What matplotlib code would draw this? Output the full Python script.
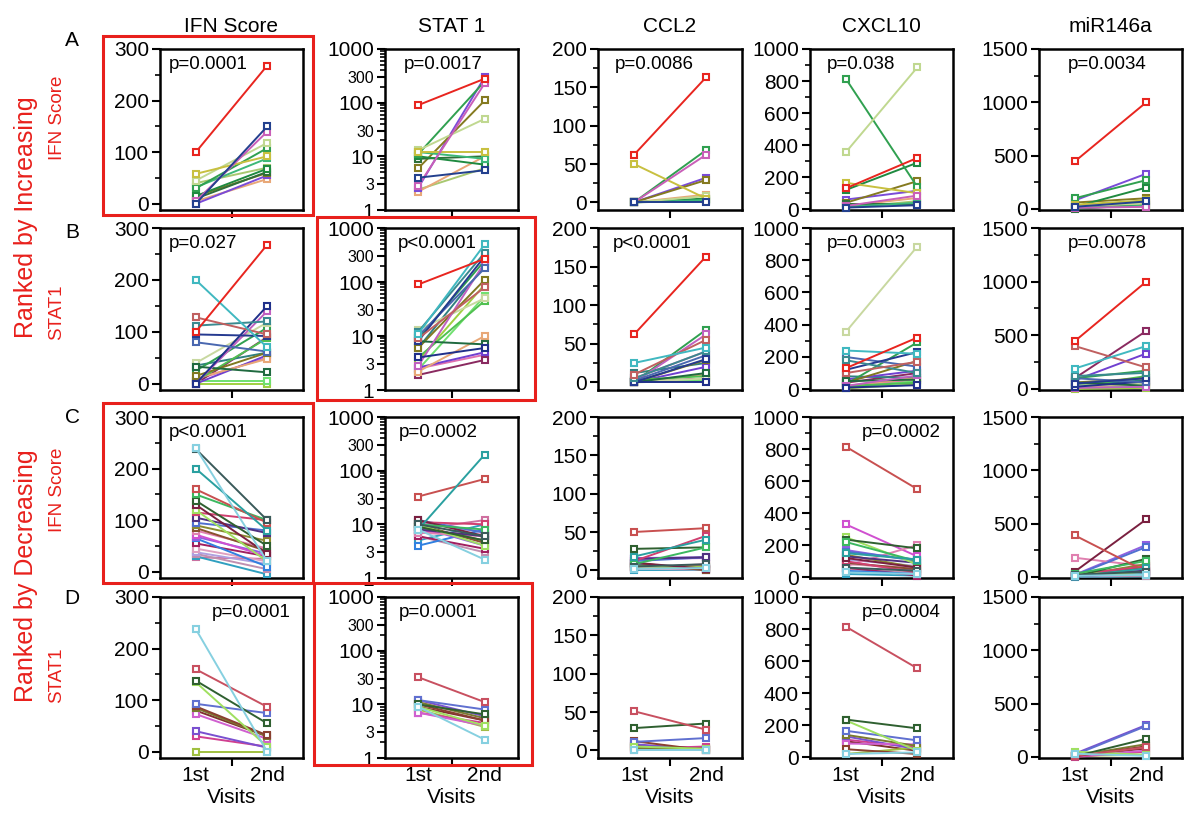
import matplotlib.pyplot as plt
from matplotlib.patches import Rectangle
from matplotlib.ticker import MultipleLocator, LogLocator, NullFormatter

plt.rcParams['font.family'] = ['Liberation Sans', 'DejaVu Sans']

columns = ["IFN Score", "STAT 1", "CCL2", "CXCL10", "miR146a"]
visits = ["1st", "2nd"]
row_letters = ["A", "B", "C", "D"]

# row A: ranked by increasing IFN score
a_ifn_1st = [100, 0, 5, 58, 45, 30, 32, 15, 10, 15, 0, 5, 40]
a_ifn_2nd = [268, 150, 140, 92, 118, 108, 88, 68, 62, 60, 55, 48, 70]
a_stat1_1st = [90, 4, 2.8, 12, 13, 11, 12, 10, 9, 6, 2.6, 2.2, 2.4]
a_stat1_2nd = [280, 5.5, 230, 12, 50, 250, 9, 7, 10, 110, 300, 10, 6]
a_ccl2_1st = [62, 0, 0, 50, 0, 0, 0, 0, 0, 0, 0, 0, 0]
a_ccl2_2nd = [163, 0, 62, 5, 8, 68, 3, 5, 2, 29, 32, 10, 4]
a_cxcl10_1st = [130, 10, 20, 165, 355, 815, 15, 120, 30, 40, 60, 20, 10]
a_cxcl10_2nd = [320, 25, 85, 100, 885, 140, 40, 290, 30, 175, 115, 70, 50]
a_mir_1st = [445, 20, 10, 40, 30, 100, 10, 20, 0, 60, 80, 5, 15]
a_mir_2nd = [1000, 70, 20, 80, 50, 270, 30, 200, 40, 100, 330, 60, 20]

# row B: ranked by increasing STAT1
b_ifn_1st = [100, 200, 128, 112, 95, 80, 0, 0, 33, 15, 40, 25, 5, 10, 0, 5, 0, 35, 0, 8]
b_ifn_2nd = [268, 70, 95, 120, 92, 62, 150, 140, 22, 60, 118, 108, 88, 48, 55, 5, 0, 60, 90, 50]
b_stat1_1st = [90, 11, 9, 12, 8, 10, 4, 2.8, 8, 6, 13, 9, 4, 2.2, 2.6, 2.4, 3.5, 6, 1.9, 2.5]
b_stat1_2nd = [270, 500, 80, 350, 300, 180, 6, 230, 7, 110, 50, 250, 45, 10, 5, 55, 90, 200, 3.6, 4.5]
b_ccl2_1st = [62, 25, 10, 5, 0, 2, 0, 0, 0, 0, 0, 0, 3, 0, 0, 2, 0, 12, 0, 5]
b_ccl2_2nd = [163, 45, 55, 40, 30, 35, 0, 62, 12, 29, 5, 68, 8, 10, 20, 3, 2, 25, 5, 40]
b_cxcl10_1st = [130, 240, 100, 180, 120, 200, 10, 20, 50, 40, 355, 30, 20, 20, 60, 10, 5, 80, 40, 15]
b_cxcl10_2nd = [320, 220, 170, 100, 230, 140, 25, 85, 60, 175, 885, 290, 40, 70, 115, 50, 30, 70, 100, 60]
b_mir_1st = [445, 190, 400, 120, 50, 100, 20, 10, 60, 60, 30, 100, 20, 5, 80, 15, 0, 40, 100, 5]
b_mir_2nd = [1000, 400, 200, 150, 100, 60, 70, 20, 30, 100, 50, 170, 120, 60, 330, 20, 10, 80, 540, 30]

# row C: ranked by decreasing IFN score
c_ifn_1st = [240, 238, 200, 160, 150, 138, 130, 120, 115, 105, 95, 90, 85, 80, 72, 68, 65, 55, 45, 38, 35, 30, 28]
c_ifn_2nd = [20, 100, 80, 95, 100, 50, 35, 20, 100, 75, 80, 60, 40, 45, 30, 35, 10, 30, 20, 15, 5, -5, 25]
c_stat1_1st = [8, 10, 8, 33, 10, 9, 12, 10, 11, 8, 12, 9, 10, 7, 8, 9, 4, 6, 7, 11, 6, 5, 8]
c_stat1_2nd = [2.2, 6, 200, 70, 8, 5, 6, 4, 10, 6, 7, 5, 4.5, 6, 5, 4, 8, 3.5, 6.5, 7, 3, 10, 12]
c_ccl2_1st = [2, 5, 18, 50, 8, 28, 10, 5, 12, 15, 12, 6, 10, 3, 15, 16, 8, 4, 2, 6, 3, 0, 5]
c_ccl2_2nd = [3, 8, 40, 55, 30, 30, 2, 4, 45, 17, 17, 5, 0, 8, 16, 17, 3, 2, 1, 4, 2, 0, 6]
c_cxcl10_1st = [30, 60, 150, 815, 220, 235, 120, 250, 100, 130, 160, 140, 90, 70, 330, 170, 40, 60, 80, 110, 50, 20, 90]
c_cxcl10_2nd = [20, 40, 110, 550, 100, 180, 60, 80, 30, 90, 110, 60, 50, 200, 130, 100, 20, 10, 60, 70, 30, 10, 40]
c_mir_1st = [10, 20, 5, 390, 30, 5, 50, 40, 20, 10, 15, 10, 5, 180, 20, 20, 10, 5, 40, 10, 5, 0, 15]
c_mir_2nd = [20, 50, 80, 50, 150, 170, 540, 20, 100, 60, 280, 120, 90, 100, 60, 300, 30, 40, 80, 20, 10, 5, 30]

# row D: ranked by decreasing STAT1
d_ifn_1st = [238, 160, 138, 135, 93, 88, 85, 73, 40, 30, 0, 80]
d_ifn_2nd = [0, 87, 55, 10, 75, 32, 30, 25, 8, 10, 0, 30]
d_stat1_1st = [9, 32, 10, 9, 12, 10, 11, 7, 12, 7, 8, 9]
d_stat1_2nd = [2.2, 11, 6.5, 4, 8, 5, 5.5, 4, 6, 4.5, 3.8, 5]
d_ccl2_1st = [0, 51, 29, 5, 11, 12, 3, 0, 8, 2, 4, 6]
d_ccl2_2nd = [0, 27, 35, 2, 16, 0, 2, 0, 1, 5, 1, 3]
d_cxcl10_1st = [20, 815, 235, 230, 165, 50, 140, 85, 130, 110, 20, 100]
d_cxcl10_2nd = [30, 555, 180, 40, 105, 20, 70, 80, 50, 60, 60, 40]
d_mir_1st = [30, 10, 5, 50, 20, 5, 10, 5, 30, 0, 10, 5]
d_mir_2nd = [10, 90, 170, 20, 290, 100, 120, 60, 300, 50, 20, 80]

p_a = ["p=0.0001", "p=0.0017", "p=0.0086", "p=0.038", "p=0.0034"]
p_b = ["p=0.027", "p<0.0001", "p<0.0001", "p=0.0003", "p=0.0078"]
p_c = ["p<0.0001", "p=0.0002", "", "p=0.0002", ""]
p_d = ["p=0.0001", "p=0.0001", "", "p=0.0004", ""]

row_a_colors = ['#e8251f', '#23408e', '#c95fb8', '#c8c040', '#c0d890', '#30a050', '#3cb878',
                '#1f8a40', '#2f6f3a', '#857a20', '#7a4bd8', '#e8a878', '#a8c870']
row_b_colors = ['#e8251f', '#40b8c0', '#c06060', '#3a8a90', '#253a90', '#4a68b0', '#20308a',
                '#c060c0', '#206a40', '#807820', '#c8d8a0', '#30a050', '#50c050', '#e8a878',
                '#7040d0', '#70e070', '#a0d040', '#308080', '#8a2a60', '#e070b0']
row_c_colors = ['#86d0e0', '#3a5a5a', '#2aa0a0', '#c85050', '#3cb860', '#2f6030', '#7a2040',
                '#a0e060', '#d04070', '#503080', '#5070d0', '#8a8a30', '#8a5030', '#e080b0',
                '#d050d0', '#9060e0', '#3080e0', '#a02060', '#e0a0c0', '#b0a0e0', '#c090b0',
                '#30a0c0', '#d070a0']
row_d_colors = ['#86d0e0', '#c85060', '#2f6030', '#a0e060', '#6070d0', '#8a4030', '#7a7a30',
                '#d060d0', '#7a50d0', '#d04090', '#a0c040', '#803030']

rows = [
    [(a_ifn_1st, a_ifn_2nd), (a_stat1_1st, a_stat1_2nd), (a_ccl2_1st, a_ccl2_2nd),
     (a_cxcl10_1st, a_cxcl10_2nd), (a_mir_1st, a_mir_2nd)],
    [(b_ifn_1st, b_ifn_2nd), (b_stat1_1st, b_stat1_2nd), (b_ccl2_1st, b_ccl2_2nd),
     (b_cxcl10_1st, b_cxcl10_2nd), (b_mir_1st, b_mir_2nd)],
    [(c_ifn_1st, c_ifn_2nd), (c_stat1_1st, c_stat1_2nd), (c_ccl2_1st, c_ccl2_2nd),
     (c_cxcl10_1st, c_cxcl10_2nd), (c_mir_1st, c_mir_2nd)],
    [(d_ifn_1st, d_ifn_2nd), (d_stat1_1st, d_stat1_2nd), (d_ccl2_1st, d_ccl2_2nd),
     (d_cxcl10_1st, d_cxcl10_2nd), (d_mir_1st, d_mir_2nd)],
]
row_colors = [row_a_colors, row_b_colors, row_c_colors, row_d_colors]
row_p = [p_a, p_b, p_c, p_d]
p_xpos = [[0.34, 0.44, 0.39, 0.36, 0.48],
          [0.30, 0.39, 0.38, 0.39, 0.48],
          [0.34, 0.40, 0.5, 0.64, 0.5],
          [0.64, 0.40, 0.5, 0.64, 0.5]]

# y axis setup per column: (ylim, major step, minor step)
yconf = [((-12, 300), 100, 50), None, ((-10, 200), 50, 25), ((-5, 1000), 200, 100), ((-10, 1500), 500, 250)]

W, H = 1200, 819
col_px = [(160, 303), (385, 518), (598, 742), (810, 953), (1039, 1182)]
row_px = [(49, 210), (228, 390), (417, 578), (597, 758)]

fig = plt.figure(figsize=(12, 8.19), dpi=100)
red = '#e8201c'

for r in range(4):
    for c in range(5):
        x0, x1 = col_px[c]
        y0, y1 = row_px[r]
        ax = fig.add_axes([x0 / W, 1 - y1 / H, (x1 - x0) / W, (y1 - y0) / H])
        v1, v2 = rows[r][c]
        cols = row_colors[r]
        n = len(v1)
        for i in range(n - 1, -1, -1):
            ax.plot([1, 2], [v1[i], v2[i]], color=cols[i], lw=1.4, marker='s', ms=5,
                    mfc='white', mec=cols[i], mew=1.5, zorder=3 + (n - i) * 0.01, clip_on=False)
        ax.set_xlim(0.5, 2.5)
        ax.set_xticks([1.5])
        ax.set_xticklabels([])
        if r == 3:
            ax.set_xticks([1, 2], minor=True)
            ax.set_xticklabels(visits, minor=True, fontsize=15)
            ax.tick_params(axis='x', which='minor', length=0, pad=6)
            ax.set_xlabel("Visits", fontsize=15, labelpad=2)
        ax.tick_params(axis='x', which='major', length=6, width=1.5, direction='out')
        if c == 1:
            ax.set_yscale('log')
            ax.set_ylim(1, 1000)
            ax.set_yticks([1, 3, 10, 30, 100, 300, 1000])
            ax.set_yticklabels(["1", "3", "10", "30", "100", "300", "1000"])
            for lab, v in zip(ax.get_yticklabels(), [1, 3, 10, 30, 100, 300, 1000]):
                lab.set_fontsize(15 if v in (1, 10, 100, 1000) else 11.5)
            ax.yaxis.set_minor_locator(LogLocator(base=10, subs=range(2, 10), numticks=20))
            ax.yaxis.set_minor_formatter(NullFormatter())
        else:
            ylim, major, minor = yconf[c]
            ax.set_ylim(*ylim)
            ax.yaxis.set_major_locator(MultipleLocator(major))
            ax.yaxis.set_minor_locator(MultipleLocator(minor))
            ax.tick_params(axis='y', which='major', labelsize=15)
        ax.tick_params(axis='y', which='major', length=6, width=1.5, direction='out', pad=2)
        ax.tick_params(axis='y', which='minor', length=3.5, width=1.2, direction='out')
        ax.tick_params(axis='x', which='minor', bottom=(r == 3))
        for s in ax.spines.values():
            s.set_linewidth(1.8)
        if r == 0:
            ax.set_title(columns[c], fontsize=15, pad=12)
        if row_p[r][c]:
            ax.text(p_xpos[r][c], 0.905, row_p[r][c], transform=ax.transAxes,
                    ha='center', va='center', fontsize=13.5, zorder=10)

# row letters
for letter, yc in zip(row_letters, [40, 232, 418, 598]):
    fig.text(72 / W, 1 - yc / H, letter, fontsize=15, ha='center', va='center')

# side labels
fig.text(26 / W, 1 - 217 / H, "Ranked by Increasing", color=red, fontsize=18,
         rotation=90, ha='center', va='center')
fig.text(26 / W, 1 - 576 / H, "Ranked by Decreasing", color=red, fontsize=18,
         rotation=90, ha='center', va='center')
for label, yc in zip(["IFN Score", "STAT1", "IFN Score", "STAT1"], [118, 312, 490, 675]):
    fig.text(57 / W, 1 - yc / H, label, color=red, fontsize=13.5,
             rotation=90, ha='center', va='center')

# red highlight frames
for (xa, ya, xb, yb) in [(103, 36, 313, 215), (317, 217, 535, 400),
                         (103, 403, 313, 583), (314, 583, 532, 765)]:
    fig.patches.append(Rectangle((xa / W, 1 - yb / H), (xb - xa) / W, (yb - ya) / H,
                                 transform=fig.transFigure, fill=False,
                                 edgecolor=red, linewidth=2.2, zorder=20))

fig.savefig("out.png", dpi=100)
